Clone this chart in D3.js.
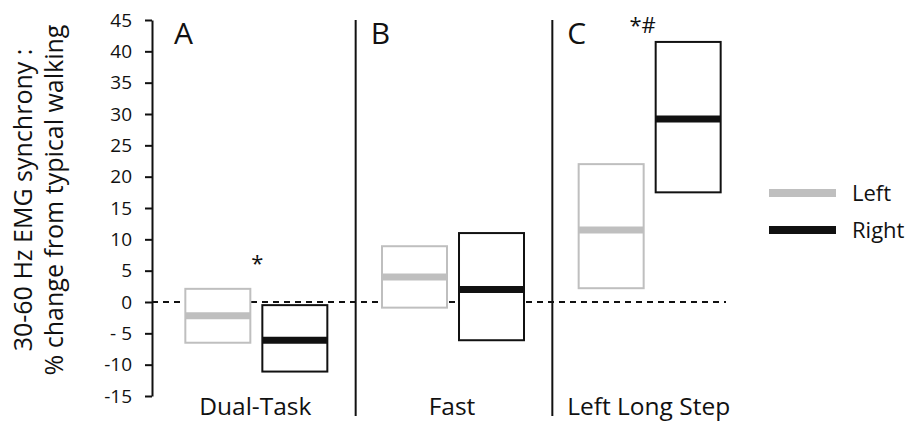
<!DOCTYPE html>
<html>
<head>
<meta charset="utf-8">
<script src="https://cdn.jsdelivr.net/npm/d3@7"></script>
<style>
  body { margin: 0; background: #fff; }
  svg text { font-family: "Open Sans", sans-serif; fill: #111; }
</style>
</head>
<body>
<svg width="915" height="426"></svg>
<script>
// conditions and panel letters
var categories = ["Dual-Task", "Fast", "Left Long Step"];
var panelLetters = ["A", "B", "C"];
var sides = ["Left", "Right"];
// % change, low / median / high of each box
var leftLow = [-6.5, -0.9, 2.2];
var leftMed = [-2.2, 4.0, 11.5];
var leftHigh = [2.1, 8.9, 22.0];
var rightLow = [-11.1, -6.1, 17.5];
var rightMed = [-6.1, 2.0, 29.2];
var rightHigh = [-0.5, 11.0, 41.5];
// significance marks and where they sit
var marks = ["*", "", "*#"];
var markValues = [7.6, 0, 45.6];
var yTicks = [-15, -10, -5, 0, 5, 10, 15, 20, 25, 30, 35, 40, 45];

var colors = { Left: "#bfbfbf", Right: "#111111" };

var svg = d3.select("svg");

var yScale = d3.scaleLinear().domain([-15, 45]).range([396, 20]);
var xScale = d3.scaleBand().domain(categories).range([159, 749]);
var sideScale = d3.scaleBand().domain(sides).range([-72, 70]).paddingInner(0.156);

// y axis
var yAxis = svg.append("g")
  .attr("transform", "translate(152,0)")
  .call(d3.axisLeft(yScale).tickValues(yTicks).tickSize(7).tickSizeOuter(0)
    .tickFormat(function (d) { return (d < 0 && d > -10) ? "- " + Math.abs(d) : d; }));
yAxis.select(".domain").attr("stroke", "#111").attr("stroke-width", 2);
yAxis.selectAll(".tick line").attr("stroke", "#111").attr("stroke-width", 2);
yAxis.selectAll(".tick text")
  .attr("x", -20)
  .style("font-size", "19px")
  .style("font-family", "'Open Sans', sans-serif")
  .attr("fill", "#111");

// y title
var title = svg.append("text")
  .attr("transform", "translate(0,200) rotate(-90)")
  .attr("text-anchor", "middle")
  .style("font-size", "25px");
title.append("tspan").attr("x", 0).attr("y", 32).text("30-60 Hz EMG synchrony :");
title.append("tspan").attr("x", 0).attr("y", 63).text("% change from typical walking");

// zero line
svg.append("line")
  .attr("x1", 152).attr("x2", 726)
  .attr("y1", yScale(0)).attr("y2", yScale(0))
  .attr("stroke", "#111").attr("stroke-width", 2)
  .attr("stroke-dasharray", "6,5");

// panel separators
svg.selectAll(".sep")
  .data(categories.slice(1))
  .enter().append("line")
  .attr("class", "sep")
  .attr("x1", function (d) { return xScale(d); })
  .attr("x2", function (d) { return xScale(d); })
  .attr("y1", 20).attr("y2", 416)
  .attr("stroke", "#111").attr("stroke-width", 2);

// panel letters
svg.selectAll(".letter")
  .data(categories)
  .enter().append("text")
  .attr("class", "letter")
  .attr("x", function (d) { return xScale(d) + 15; })
  .attr("y", 44)
  .style("font-size", "30px")
  .text(function (d, i) { return panelLetters[i]; });

// category labels
svg.selectAll(".cat")
  .data(categories)
  .enter().append("text")
  .attr("class", "cat")
  .attr("x", function (d) { return xScale(d) + xScale.bandwidth() / 2 - 2; })
  .attr("y", 415)
  .attr("text-anchor", "middle")
  .style("font-size", "24.5px")
  .text(function (d) { return d; });

// boxes
var boxes = [];
categories.forEach(function (c, i) {
  boxes.push({ cat: c, side: "Left", low: leftLow[i], med: leftMed[i], high: leftHigh[i] });
  boxes.push({ cat: c, side: "Right", low: rightLow[i], med: rightMed[i], high: rightHigh[i] });
});

function boxX(d) { return xScale(d.cat) + xScale.bandwidth() / 2 + sideScale(d.side); }

var g = svg.selectAll(".box")
  .data(boxes)
  .enter().append("g")
  .attr("class", "box");

g.append("rect")
  .attr("x", boxX)
  .attr("y", function (d) { return yScale(d.high); })
  .attr("width", sideScale.bandwidth())
  .attr("height", function (d) { return yScale(d.low) - yScale(d.high); })
  .attr("fill", "#fff")
  .attr("stroke", function (d) { return colors[d.side]; })
  .attr("stroke-width", 2);

g.append("line")
  .attr("x1", boxX)
  .attr("x2", function (d) { return boxX(d) + sideScale.bandwidth(); })
  .attr("y1", function (d) { return yScale(d.med); })
  .attr("y2", function (d) { return yScale(d.med); })
  .attr("stroke", function (d) { return colors[d.side]; })
  .attr("stroke-width", 7);

// significance marks
svg.selectAll(".mark")
  .data(categories)
  .enter().append("text")
  .attr("class", "mark")
  .attr("x", function (d, i) { return xScale(d) + xScale.bandwidth() / 2 - i * 4; })
  .attr("y", function (d, i) { return yScale(markValues[i]); })
  .attr("dy", "0.75em")
  .attr("text-anchor", "middle")
  .style("font-size", "22px")
  .text(function (d, i) { return marks[i]; });

// legend
var legend = svg.selectAll(".legend")
  .data(sides)
  .enter().append("g")
  .attr("class", "legend")
  .attr("transform", function (d, i) { return "translate(769," + (193 + i * 37) + ")"; });

legend.append("line")
  .attr("x1", 0).attr("x2", 67)
  .attr("stroke", function (d) { return colors[d]; })
  .attr("stroke-width", 8);

legend.append("text")
  .attr("x", 83)
  .attr("dy", "0.36em")
  .style("font-size", "22px")
  .text(function (d) { return d; });
</script>
</body>
</html>
